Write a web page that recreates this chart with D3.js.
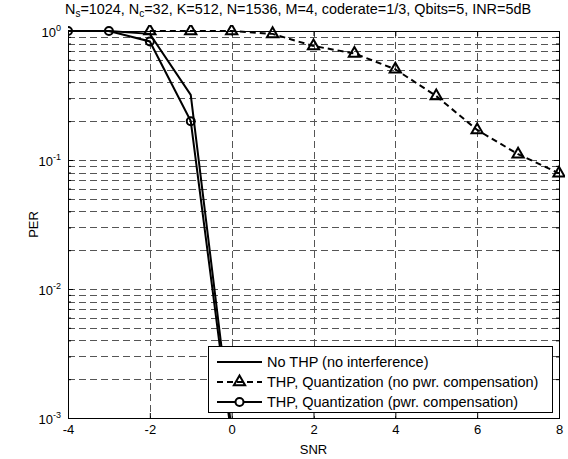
<!DOCTYPE html>
<html>
<head>
<meta charset="utf-8">
<script src="https://cdn.jsdelivr.net/npm/d3@7"></script>
<style>
  body { margin: 0; background: #fff; }
  svg { font-family: "Liberation Sans", Arial, sans-serif; }
</style>
</head>
<body>
<svg id="chart"></svg>
<script>
let width = 568;
let height = 459;
let margin = {"top": 31, "bottom": 41, "left": 68, "right": 9};

// data
const snrNoThp = [-4, -3, -2, -1, 0];
const perNoThp = [1, 1, 0.95, 0.32, 0.0008];

const snrNoComp = [-2, -1, 0, 1, 2, 3, 4, 5, 6, 7, 8];
const perNoComp = [1, 1, 1, 0.95, 0.765, 0.67, 0.505, 0.313, 0.171, 0.111, 0.0788];

const snrComp = [-4, -3, -2, -1, 0];
const perComp = [1, 1, 0.83, 0.2, 0.0007];

const xTicks = [-4, -2, 0, 2, 4, 6, 8];
const yDecades = [-3, -2, -1, 0];
const legendNames = ["No THP (no interference)",
    "THP, Quantization (no pwr. compensation)",
    "THP, Quantization (pwr. compensation)"];

let svg = d3.select("#chart")
    .attr("width", width)
    .attr("height", height);

let x = d3.scaleLinear()
    .domain([-4, 8])
    .range([margin.left, width - margin.right]);
let y = d3.scaleLog()
    .domain([1e-3, 1])
    .range([height - margin.bottom, margin.top]);

let x0 = x.range()[0], x1 = x.range()[1];
let y0 = y.range()[0], y1 = y.range()[1];

// minor values for the log axis
let yMinor = [];
yDecades.slice(0, -1).forEach(function(e) {
    for (let m = 2; m <= 9; m++) yMinor.push(m * Math.pow(10, e));
});
let yMajor = yDecades.map((e) => Math.pow(10, e));

// grid
let grid = svg.append("g")
    .attr("stroke", "#555")
    .attr("stroke-width", 1)
    .attr("stroke-dasharray", "7,4");
grid.selectAll("line.gy")
    .data(yMajor.concat(yMinor).filter((v) => v > 1e-3 && v < 1))
    .enter().append("line")
    .attr("x1", x0).attr("x2", x1)
    .attr("y1", (d) => Math.round(y(d)) + 0.5)
    .attr("y2", (d) => Math.round(y(d)) + 0.5);
grid.selectAll("line.gx")
    .data(xTicks.filter((v) => v > -4 && v < 8))
    .enter().append("line")
    .attr("y1", y1).attr("y2", y0)
    .attr("x1", (d) => Math.round(x(d)) + 0.5)
    .attr("x2", (d) => Math.round(x(d)) + 0.5);

// axes with inside ticks
svg.append("g")
    .attr("transform", `translate(0, ${y0})`)
    .call(d3.axisBottom(x).tickValues(xTicks).tickSize(-5).tickPadding(7).tickSizeOuter(0)
        .tickFormat((d) => String(d)))
    .call((g) => g.selectAll("text").attr("font-size", 13).attr("fill", "#000"));
svg.append("g")
    .attr("transform", `translate(0, ${y1})`)
    .call(d3.axisTop(x).tickValues(xTicks).tickSize(-5).tickFormat("").tickSizeOuter(0));

let yLeft = svg.append("g")
    .attr("transform", `translate(${x0}, 0)`)
    .call(d3.axisLeft(y).tickValues(yMajor).tickSize(-5).tickPadding(7).tickSizeOuter(0)
        .tickFormat(""));
yLeft.selectAll(".tick text")
    .attr("font-size", 13)
    .attr("fill", "#000")
    .attr("dy", "0.45em")
    .text("10")
    .append("tspan")
    .attr("dy", "-0.75em")
    .attr("font-size", 9)
    .text((d) => String(Math.round(Math.log10(d))));
svg.append("g")
    .attr("transform", `translate(${x0}, 0)`)
    .call(d3.axisLeft(y).tickValues(yMinor).tickSize(-3).tickFormat("").tickSizeOuter(0));
svg.append("g")
    .attr("transform", `translate(${x1}, 0)`)
    .call(d3.axisRight(y).tickValues(yMajor).tickSize(-5).tickFormat("").tickSizeOuter(0));
svg.append("g")
    .attr("transform", `translate(${x1}, 0)`)
    .call(d3.axisRight(y).tickValues(yMinor).tickSize(-3).tickFormat("").tickSizeOuter(0));
svg.selectAll(".domain").remove();
svg.selectAll(".tick line").attr("stroke", "#000");

svg.append("rect")
    .attr("x", x0 + 0.5).attr("y", y1 + 0.5)
    .attr("width", x1 - x0).attr("height", y0 - y1)
    .attr("fill", "none").attr("stroke", "#000").attr("stroke-width", 1);

// data lines
svg.append("clipPath").attr("id", "clip")
    .append("rect")
    .attr("x", x0).attr("y", y1 - 6)
    .attr("width", x1 - x0 + 6).attr("height", y0 - y1 + 6);

let line = d3.line()
    .x((d) => x(d[0]))
    .y((d) => y(d[1]));

let plot = svg.append("g").attr("clip-path", "url(#clip)");

let series = [
    {pts: d3.zip(snrNoThp, perNoThp), dash: null, marker: null},
    {pts: d3.zip(snrNoComp, perNoComp), dash: "6,4", marker: "triangle"},
    {pts: d3.zip(snrComp, perComp), dash: null, marker: "circle"}
];

let triSym = d3.symbol().type(d3.symbolTriangle).size(55);

series.forEach(function(s) {
    plot.append("path")
        .datum(s.pts)
        .attr("d", line)
        .attr("fill", "none")
        .attr("stroke", "#000")
        .attr("stroke-width", 2)
        .attr("stroke-dasharray", s.dash);
    let inside = s.pts.filter((d) => d[1] >= 1e-3);
    if (s.marker == "circle") {
        plot.selectAll(null).data(inside).enter().append("circle")
            .attr("cx", (d) => x(d[0])).attr("cy", (d) => y(d[1]))
            .attr("r", 4)
            .attr("fill", "none").attr("stroke", "#000").attr("stroke-width", 2);
    }
    if (s.marker == "triangle") {
        plot.selectAll(null).data(inside).enter().append("path")
            .attr("d", triSym)
            .attr("transform", (d) => `translate(${x(d[0])}, ${y(d[1])})`)
            .attr("fill", "none").attr("stroke", "#000").attr("stroke-width", 2);
    }
});

// legend
let lg = svg.append("g");
lg.append("rect")
    .attr("x", 208.5).attr("y", 346.5)
    .attr("width", 344).attr("height", 66)
    .attr("fill", "#fff").attr("stroke", "#000").attr("stroke-width", 1);
series.forEach(function(s, i) {
    let ly = 362 + i * 20;
    lg.append("line")
        .attr("x1", 217).attr("x2", 262)
        .attr("y1", ly).attr("y2", ly)
        .attr("stroke", "#000").attr("stroke-width", 2)
        .attr("stroke-dasharray", s.dash);
    if (s.marker == "circle") {
        lg.append("circle").attr("cx", 239.5).attr("cy", ly).attr("r", 4)
            .attr("fill", "#fff").attr("stroke", "#000").attr("stroke-width", 2);
    }
    if (s.marker == "triangle") {
        lg.append("path").attr("d", triSym)
            .attr("transform", `translate(239.5, ${ly})`)
            .attr("fill", "none").attr("stroke", "#000").attr("stroke-width", 2);
    }
    lg.append("text")
        .attr("x", 267).attr("y", ly + 5)
        .attr("font-size", 14.5)
        .text(legendNames[i]);
});

// labels
svg.append("text")
    .attr("x", (x0 + x1) / 2).attr("y", 454)
    .attr("text-anchor", "middle")
    .attr("font-size", 13)
    .text("SNR");
svg.append("text")
    .attr("transform", `translate(38, ${(y0 + y1) / 2}) rotate(-90)`)
    .attr("text-anchor", "middle")
    .attr("font-size", 13)
    .text("PER");

let title = svg.append("text")
    .attr("x", 65).attr("y", 14)
    .attr("font-size", 14.4);
title.append("tspan").text("N");
title.append("tspan").attr("font-size", 10).attr("dy", 3).text("s");
title.append("tspan").attr("dy", -3).text("=1024, N");
title.append("tspan").attr("font-size", 10).attr("dy", 3).text("c");
title.append("tspan").attr("dy", -3).text("=32, K=512, N=1536, M=4, coderate=1/3, Qbits=5, INR=5dB");
</script>
</body>
</html>
